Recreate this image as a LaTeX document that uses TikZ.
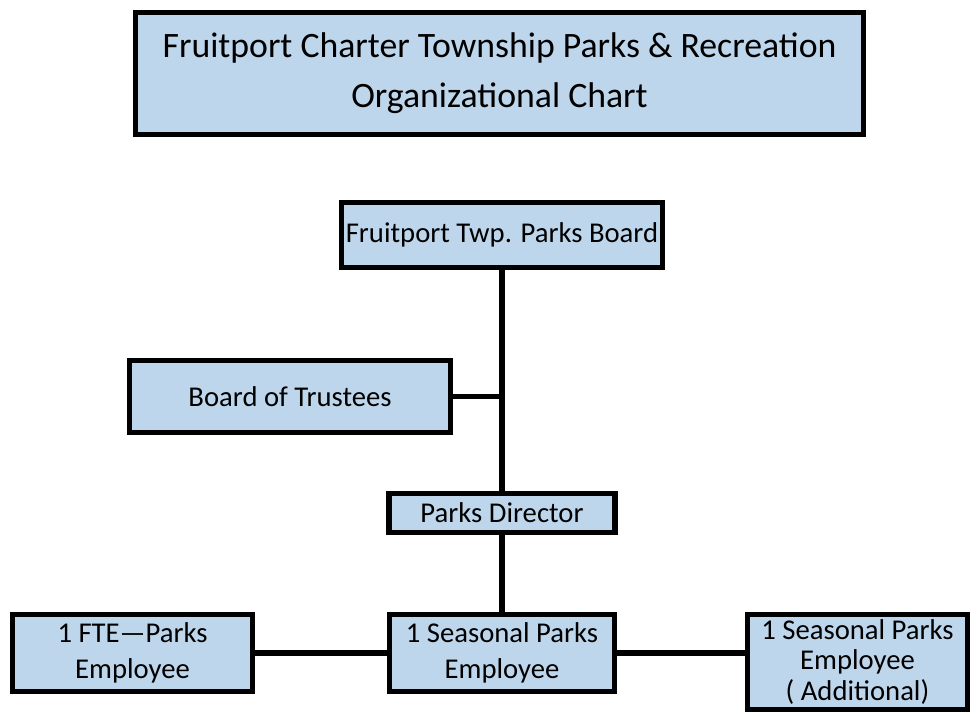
\documentclass[tikz,border=0pt]{standalone}
\usepackage{fontspec}
\setmainfont{Carlito}
\usepackage{tikz}
\definecolor{boxblue}{RGB}{190,214,236}
\tikzset{%
    box/.style={draw=black,line width=4.2pt,fill=boxblue,align=center,inner sep=0pt,
        font=\fontsize{21.5pt}{27pt}\selectfont},
    link/.style={line width=3.8pt}
}

\begin{document}
\begin{tikzpicture}[x=0.75pt,y=-0.75pt]
        \useasboundingbox (0,0) rectangle (977,716);

        \node[box,minimum width=546pt,minimum height=91.5pt,
            font=\fontsize{26.8pt}{37.5pt}\selectfont] (title) at (499.5,73.5)
            {Fruitport Charter Township Parks \& Recreation\\Organizational Chart};

        \node[box,minimum width=240.75pt,minimum height=48.75pt] (board) at (502,235) {Fruitport Twp. Parks Board};
        \node[box,minimum width=240.75pt,minimum height=54pt] (trust) at (290,396.5) {Board of Trustees};
        \node[box,minimum width=169.5pt,minimum height=29.25pt] (dir) at (502,513) {Parks Director};

        \node[box,minimum width=180pt,minimum height=57.75pt] (fte) at (132.5,653) {1 FTE—Parks\\Employee};
        \node[box,minimum width=168.75pt,minimum height=57.75pt] (seas) at (502,653) {1 Seasonal Parks\\Employee};
        \node[box,minimum width=165pt,minimum height=71.25pt,
            font=\fontsize{21.5pt}{23pt}\selectfont] (extra) at (857.5,662) {1 Seasonal Parks\\Employee\\( Additional)};

        \draw[link] (board.south) -- (dir.north);
        \draw[link] (trust.east) -- (trust.east -| dir.north);
        \draw[link] (dir.south) -- (seas.north);
        \draw[link] (fte.east) -- (seas.west);
        \draw[link] (seas.east) -- (seas.east -| extra.west);
    \end{tikzpicture}
\end{document}
